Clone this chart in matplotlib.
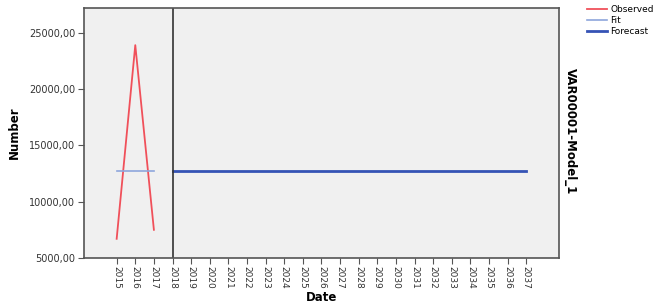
import matplotlib.pyplot as plt

# Data
years_obs = [2015, 2016, 2017]
observed = [6700, 23900, 7500]
fit = [12700, 12700, 12700]
years_fc = [2018, 2037]
forecast = [12700, 12700]
year_ticks = list(range(2015, 2038))
y_ticks = [5000, 10000, 15000, 20000, 25000]

fig = plt.figure(figsize=(6.54, 3.06), dpi=100)
ax = fig.add_axes([0.128, 0.157, 0.727, 0.817])
ax.set_facecolor('#f0f0f0')

ax.plot(years_obs, observed, color='#f0505a', lw=1.3, label='Observed')
ax.plot(years_obs, fit, color='#8ea6dc', lw=1.2, label='Fit')
ax.plot(years_fc, forecast, color='#3553b5', lw=2, label='Forecast')
ax.axvline(2018, color='#333333', lw=1.2)

ax.set_xlim(2013.23, 2038.77)
ax.set_ylim(5000, 27200)
ax.set_xticks(year_ticks)
ax.set_xticklabels([str(y) for y in year_ticks], rotation=-90, fontsize=6.5, color='#333333')
ax.set_yticks(y_ticks)
ax.set_yticklabels(['%d,00' % v for v in y_ticks], fontsize=7, color='#333333')
ax.tick_params(direction='out', length=4, color='#555555', pad=2)
for s in ax.spines.values():
    s.set_color('#555555')
    s.set_linewidth(1.2)

ax.set_xlabel('Date', fontsize=8.5, fontweight='bold', labelpad=1)
ax.set_ylabel('Number', fontsize=8.5, fontweight='bold', labelpad=6)

fig.text(0.872, 0.57, 'VAR00001-Model_1', rotation=-90, fontsize=8.5, fontweight='bold',
         ha='center', va='center')

fig.legend(loc='upper left', bbox_to_anchor=(0.89, 1.0), fontsize=6.5, frameon=False,
           handlelength=2.2, handletextpad=0.3, labelspacing=0.2, borderaxespad=0.2)

fig.savefig('out.png', dpi=100)
